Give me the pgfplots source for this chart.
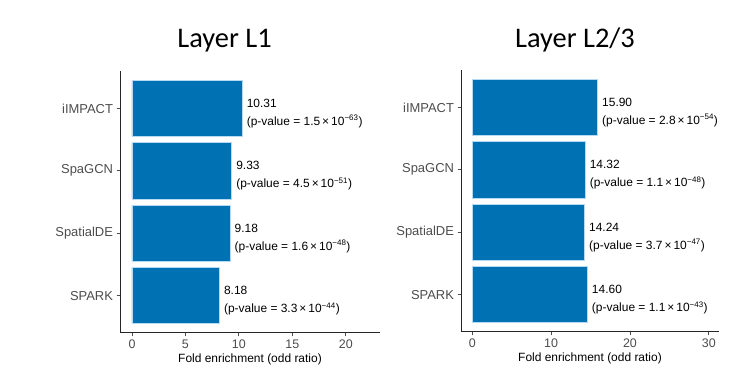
\documentclass[border=0pt]{standalone}
\usepackage{pgfplots}
\pgfplotsset{compat=1.18}
\usepackage{fontspec}
\setmainfont{Liberation Sans}
\newfontfamily\titlefont{Carlito}
\definecolor{barblue}{HTML}{0072B3}
\definecolor{baredge}{HTML}{B5DAF2}
\definecolor{tickgray}{HTML}{4D4D4D}
\pgfplotsset{
  myax/.style={
    scale only axis,
    anchor=south west,
    xbar,
    bar width=0.9,
    height=262bp,
    axis lines=left,
    axis line style={-, line width=1bp, black!85},
    ymin=-0.6, ymax=3.6,
    ytick={0,1,2,3},
    yticklabels={SPARK,SpatialDE,SpaGCN,iIMPACT},
    y tick label style={font=\fontsize{13}{15}\selectfont, text=tickgray},
    x tick label style={font=\fontsize{12.5}{14}\selectfont, text=tickgray},
    tick align=outside,
    major tick length=3.5bp,
    tick style={line width=0.8bp, black!70},
    /pgf/number format/assume math mode=true,
    xlabel={Fold enrichment (odd ratio)},
    xlabel style={font=\fontsize{12}{14}\selectfont, text=black, yshift=1.5bp},
    point meta=explicit symbolic,
    nodes near coords,
    every node near coord/.append style={anchor=west, align=left, text=black,
      font=\fontsize{12}{18}\selectfont, yshift=-5bp, xshift=1bp},
  }
}
\begin{document}
\begin{tikzpicture}
\useasboundingbox[fill=white] (0,0) rectangle (733bp,373bp);
\node[anchor=base, font=\titlefont\fontsize{28.5}{30}\selectfont] at (224.5bp,325bp) {Layer L1};
\node[anchor=base, font=\titlefont\fontsize{28.5}{30}\selectfont] at (575bp,325bp) {Layer L2/3};
\begin{axis}[myax, at={(120bp,40bp)}, width=260bp,
  xmin=-1.12, xmax=23.2, xtick={0,5,10,15,20}]
\addplot[fill=barblue, draw=baredge, line width=0.6bp] coordinates {
  (8.18,0) [8.18\\(p-value = 3.3\,×\,10\textsuperscript{−44})]
  (9.18,1) [9.18\\(p-value = 1.6\,×\,10\textsuperscript{−48})]
  (9.33,2) [9.33\\(p-value = 4.5\,×\,10\textsuperscript{−51})]
  (10.31,3) [10.31\\(p-value = 1.5\,×\,10\textsuperscript{−63})]
};
\end{axis}
\begin{axis}[myax, at={(461bp,41bp)}, width=258bp,
  xmin=-1.43, xmax=31.3, xtick={0,10,20,30}]
\addplot[fill=barblue, draw=baredge, line width=0.6bp] coordinates {
  (14.60,0) [14.60\\(p-value = 1.1\,×\,10\textsuperscript{−43})]
  (14.24,1) [14.24\\(p-value = 3.7\,×\,10\textsuperscript{−47})]
  (14.32,2) [14.32\\(p-value = 1.1\,×\,10\textsuperscript{−48})]
  (15.90,3) [15.90\\(p-value = 2.8\,×\,10\textsuperscript{−54})]
};
\end{axis}
\end{tikzpicture}
\end{document}
